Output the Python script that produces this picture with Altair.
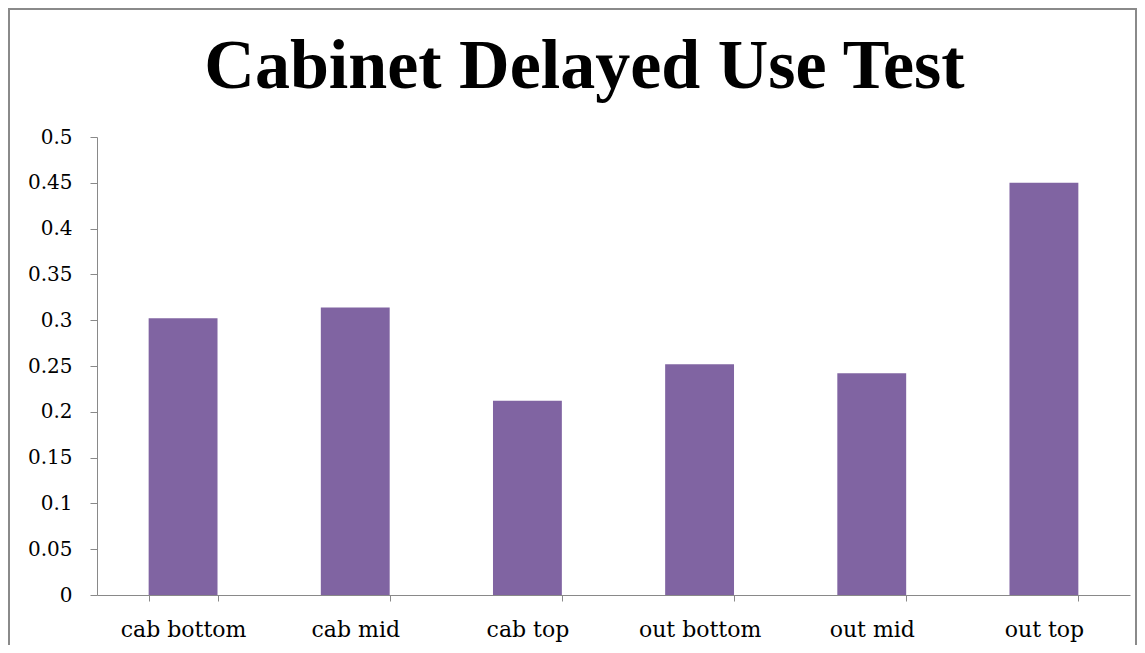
import altair as alt
import pandas as pd

categories = ["cab bottom", "cab mid", "cab top", "out bottom", "out mid", "out top"]
values = [0.302, 0.314, 0.212, 0.252, 0.242, 0.450]

df = pd.DataFrame({"category": categories, "value": values})

axis_color = "#898989"
label_font = "DejaVu Serif"

bars = alt.Chart(df).mark_bar(color="#8064A2").encode(
    x=alt.X(
        "category:N",
        sort=categories,
        title=None,
        scale=alt.Scale(paddingInner=0.6, paddingOuter=0.3),
        axis=alt.Axis(
            labelAngle=0,
            labelFont=label_font,
            labelFontSize=22,
            labelColor="black",
            labelPadding=18,
            tickBand="extent",
            tickSize=6,
            tickColor=axis_color,
            domainColor=axis_color,
            grid=False,
        ),
    ),
    y=alt.Y(
        "value:Q",
        title=None,
        scale=alt.Scale(domain=[0, 0.5], nice=False),
        axis=alt.Axis(
            values=[0, 0.05, 0.1, 0.15, 0.2, 0.25, 0.3, 0.35, 0.4, 0.45, 0.5],
            format="~g",
            labelFont=label_font,
            labelFontSize=20,
            labelColor="black",
            labelPadding=18,
            tickSize=7,
            tickColor=axis_color,
            domainColor=axis_color,
            grid=False,
        ),
    ),
)

border = alt.Chart(df).mark_rect(fill=None, stroke="#8a8a8a", strokeWidth=2).encode(
    x=alt.value(-88), x2=alt.value(1039), y=alt.value(-128), y2=alt.value(700)
)

chart = alt.layer(border, bars).properties(
    width=1033,
    height=458,
    background="white",
    autosize=alt.AutoSizeParams(type="none"),
    padding={"left": 89, "top": 129, "right": 7, "bottom": 50},
    title=alt.Title(
        "Cabinet Delayed Use Test",
        font="Liberation Serif",
        fontSize=70,
        fontWeight="bold",
        color="black",
        anchor="middle",
        baseline="alphabetic",
        offset=0,
        dy=150,
        dx=-29,
    ),
).configure_view(strokeWidth=0, strokeOpacity=0)

chart.save("out.html", embed_options={"renderer": "svg", "actions": False})
